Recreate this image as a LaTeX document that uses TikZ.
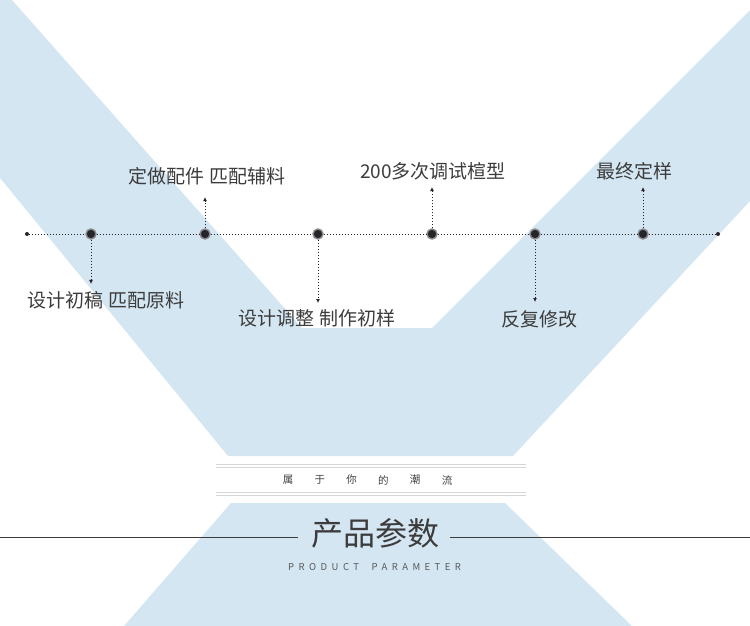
\documentclass[tikz,border=0pt]{standalone}
\usepackage{fontspec}
\setmainfont{Noto Sans CJK SC}
\newfontfamily\spacedfont[LetterSpace=47]{Noto Sans CJK SC}
\usepackage{tikz}
\usetikzlibrary{arrows.meta}
\definecolor{bandblue}{RGB}{212,230,242}
\definecolor{dotgray}{RGB}{38,38,42}
\definecolor{txtgray}{RGB}{60,60,60}
\definecolor{rulegray}{RGB}{214,214,214}

\begin{document}
\begin{tikzpicture}[x=1pt, y=-1pt,
    bigdot/.style={circle, fill=dotgray, draw=dotgray!55, line width=1.4pt, minimum size=10pt, inner sep=0pt},
    smalldot/.style={circle, fill=dotgray, minimum size=4pt, inner sep=0pt},
    dotline/.style={dotgray, line width=0.85pt, dash pattern=on 1.1pt off 1.9pt},
    lbl/.style={font=\fontsize{19}{22}\selectfont, text=txtgray, inner sep=0pt}]
\useasboundingbox (0,0) rectangle (750,626);
% background bands
\fill[bandblue] (0,0) -- (12,0) -- (302,328) -- (432,328) -- (750,10) -- (750,201)
    -- (513,456) -- (228,456) -- (0,178) -- cycle;
\fill[bandblue] (231,503) -- (505,503) -- (632,626) -- (124,626) -- cycle;
% timeline
\node[smalldot] (e0) at (27,234) {};
\node[smalldot] (e7) at (718,234) {};
\foreach \x [count=\i] in {91,205,318,432,535,643} {
    \node[bigdot] (d\i) at (\x,234) {};
}
\draw[dotline] (e0) -- (d1) -- (d2) -- (d3) -- (d4) -- (d5) -- (d6) -- (e7);
% labels
\node[lbl] (l1) at (106,300) {设计初稿 匹配原料};
\node[lbl] (l2) at (207,176) {定做配件 匹配辅料};
\node[lbl] (l3) at (317,318) {设计调整 制作初样};
\node[lbl] (l4) at (433,171) {200多次调试楦型};
\node[lbl] (l5) at (539,319) {反复修改};
\node[lbl] (l6) at (634,171) {最终定样};
\foreach \i/\gap in {1/7,3/6,5/8} {
    \draw[dotline, -{Latex[length=4pt, width=4pt]}, shorten >=\gap pt] (d\i) -- (d\i |- l\i.north);
}
\foreach \i/\gap in {2/12,4/7,6/7} {
    \draw[dotline, -{Latex[length=4pt, width=4pt]}, shorten >=\gap pt] (d\i) -- (d\i |- l\i.south);
}
% title block
\draw[rulegray, line width=0.8pt] (216,464.5) -- (526,464.5);
\draw[rulegray, line width=0.8pt] (216,467.5) -- (526,467.5);
\draw[rulegray, line width=0.8pt] (216,492.5) -- (526,492.5);
\draw[rulegray, line width=0.8pt] (216,495.5) -- (526,495.5);
\foreach \c [count=\i from 0] in {属,于,你,的,潮,流} {
    \node[font=\fontsize{10.5}{12}\selectfont, text=txtgray] (s\i) at (288+31.8*\i,480) {\c};
}
\node[font=\fontsize{32}{36}\selectfont, text=txtgray] (title) at (375.5,533) {产品参数};
\draw[txtgray, line width=0.9pt] (0,537) -- (298,537);
\draw[txtgray, line width=0.9pt] (450,537) -- (750,537);
\node[anchor=west, inner sep=0pt, text=txtgray!85, font=\spacedfont\fontsize{9.5}{11}\selectfont] (sub) at (288,567) {PRODUCT\hspace{6pt} PARAMETER};
\end{tikzpicture}
\end{document}
